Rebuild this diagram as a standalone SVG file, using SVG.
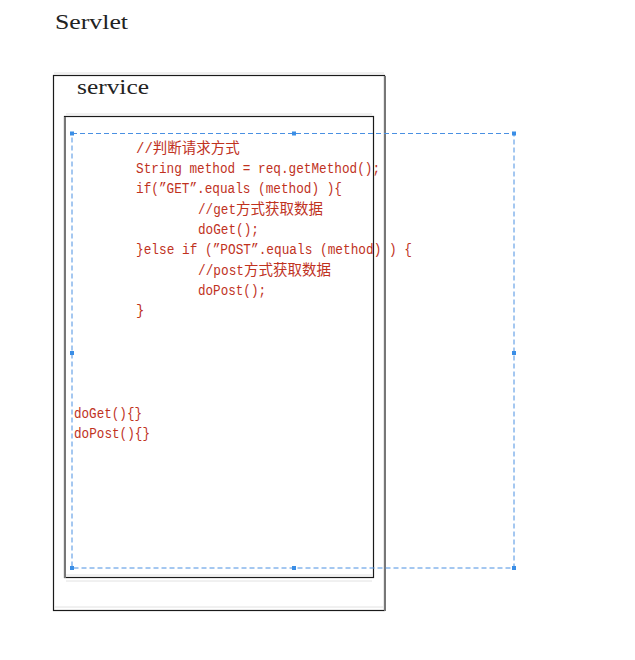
<svg xmlns="http://www.w3.org/2000/svg" width="635" height="660" viewBox="0 0 635 660">
<style>
.title{font-family:"Liberation Serif","DejaVu Serif",serif;font-size:22px;fill:#222}
.code{font-family:"Liberation Mono","Noto Sans CJK SC",monospace;font-size:14px;fill:#c0321e}
.cjk{font-family:"Noto Sans CJK SC",sans-serif;font-size:14.5px}
.box{fill:none;stroke:#1a1a1a;stroke-width:1.2}
.edge{stroke:#777;stroke-width:2}
.shade{stroke:#e2e2e2;stroke-width:1}
.sel{fill:none;stroke:#4a90e2;stroke-width:1;stroke-dasharray:5 3}
.h{fill:#3a8ee6}
</style>
<rect width="635" height="660" fill="#fff"/>
<g id="servlet">
<text class="title" x="55" y="29" textLength="73" lengthAdjust="spacingAndGlyphs">Servlet</text>
</g>
<g id="service">
<rect class="box" x="53.5" y="75.5" width="331" height="535"/>
<line class="edge" x1="385" y1="76" x2="385" y2="611"/>
<line class="shade" x1="55" y1="607" x2="383" y2="607"/>
<line class="shade" x1="54" y1="73" x2="384" y2="73"/>
<text class="title" x="77" y="94" textLength="72" lengthAdjust="spacingAndGlyphs">service</text>
</g>
<g id="method-body">
<rect class="box" x="64.5" y="116.5" width="309" height="461"/>
<line class="edge" x1="65" y1="117" x2="65" y2="578"/>
<line class="shade" x1="66" y1="575" x2="372" y2="575"/>
<line class="shade" x1="66" y1="114" x2="372" y2="114"/>
<line class="shade" x1="66" y1="581" x2="372" y2="581"/>
<text class="code" x="136" y="153">//<tspan class="cjk">判断请求方式</tspan></text>
<text class="code" x="136" y="173" textLength="244" lengthAdjust="spacingAndGlyphs">String method = req.getMethod();</text>
<text class="code" x="136" y="193" textLength="206" lengthAdjust="spacingAndGlyphs">if(”GET”.equals (method) ){</text>
<text class="code" x="198" y="214"><tspan textLength="38" lengthAdjust="spacingAndGlyphs">//get</tspan><tspan class="cjk">方式获取数据</tspan></text>
<text class="code" x="198" y="234" textLength="61" lengthAdjust="spacingAndGlyphs">doGet();</text>
<text class="code" x="136" y="254" textLength="276" lengthAdjust="spacingAndGlyphs">}else if (”POST”.equals (method) ) {</text>
<text class="code" x="198" y="275"><tspan textLength="46" lengthAdjust="spacingAndGlyphs">//post</tspan><tspan class="cjk">方式获取数据</tspan></text>
<text class="code" x="198" y="295" textLength="68" lengthAdjust="spacingAndGlyphs">doPost();</text>
<text class="code" x="136" y="315">}</text>
<text class="code" x="74" y="418" textLength="68" lengthAdjust="spacingAndGlyphs">doGet(){}</text>
<text class="code" x="74" y="438" textLength="76" lengthAdjust="spacingAndGlyphs">doPost(){}</text>
</g>
<g id="selection">
<rect class="sel" x="72" y="133.5" width="442" height="434.5"/>
<rect class="h" x="70" y="131.5" width="4" height="4"/>
<rect class="h" x="292" y="131.5" width="4" height="4"/>
<rect class="h" x="512" y="131.5" width="4" height="4"/>
<rect class="h" x="70" y="351" width="4" height="4"/>
<rect class="h" x="512" y="351" width="4" height="4"/>
<rect class="h" x="70" y="566" width="4" height="4"/>
<rect class="h" x="292" y="566" width="4" height="4"/>
<rect class="h" x="512" y="566" width="4" height="4"/>
</g>
</svg>
